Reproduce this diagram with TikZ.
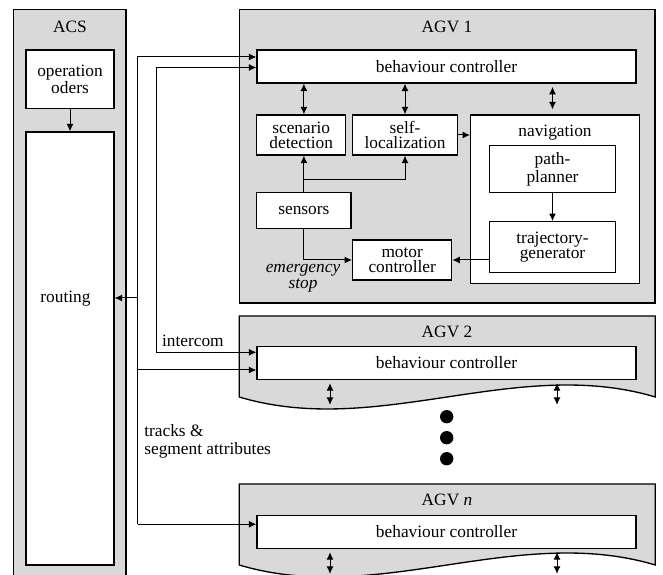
\documentclass[tikz,border=0pt]{standalone}
\usepackage{fontspec}
\setmainfont{Liberation Serif}
\usetikzlibrary{arrows.meta}
\begin{document}
\begin{tikzpicture}[x=0.6pt,y=-0.6pt,font=\fontsize{10.4}{9}\selectfont,>={Latex[length=4.5pt,width=4.2pt]},
  blk/.style 2 args={draw,fill=white,line width=0.8pt,align=center,inner sep=0pt,minimum width=#1*0.6pt,minimum height=#2*0.6pt},
  grp/.style={draw,fill=agvgray,line width=0.8pt},
  arr/.style={->,line width=0.6pt},
  darr/.style={<->,line width=0.6pt}]
\definecolor{agvgray}{HTML}{D9D9D9}
\useasboundingbox (0,0) rectangle (663,575);
\clip (0,0) rectangle (663,575);
\draw[grp] (13.5,9.5) rectangle (126,600);
\node (acstxt) at (70,27.2) {ACS};
\node[blk={88}{58.7}] (ops) at (70,79.3) {operation\\oders};
\node[blk={88}{433}] (routing) at (70,348.5) {};
\node (routtxt) at (65.5,299) {routing};
\draw[arr] (ops) -- (routing);
\draw[grp] (239.3,9.3) rectangle (655,303);
\node (agv1txt) at (447,27.2) {AGV 1};
\node[blk={379}{33}] (bc1) at (446.5,66.4) {behaviour controller};
\node[blk={89}{40}] (scen) at (301.2,135) {scenario\\detection};
\node[blk={105.4}{40}] (selfloc) at (405,135) {self-\\localization};
\node[blk={168.6}{168.3}] (nav) at (555,199.2) {};
\node (navtxt) at (555,132.5) {navigation};
\node[blk={126.4}{47}] (path) at (552.5,169.2) {path-\\planner};
\node[blk={126.4}{51}] (traj) at (552.5,247.2) {trajectory-\\generator};
\node[blk={99}{40}] (motor) at (402.2,260) {motor\\controller};
\node[blk={94.3}{35.6}] (sensors) at (303.9,210.5) {sensors};
\node[align=center,inner sep=0pt,font=\itshape\fontsize{10.4}{9.6}\selectfont] (estop) at (303,278) {emergency\\stop};
\draw[darr] (bc1.south -| sensors.north) -- (scen.north -| sensors.north);
\draw[darr] (bc1.south -| selfloc.north) -- (selfloc.north);
\draw[darr,shorten <=2pt,shorten >=3pt] (bc1.south -| path.north) -- (nav.north -| path.north);
\draw[arr] (selfloc.east) -- (selfloc.east -| nav.west);
\draw[arr] (sensors.north) -- (scen.south -| sensors.north);
\draw[arr] ([yshift=7.6pt]sensors.north) -| (selfloc.south);
\draw[arr] (sensors.south) |- (motor.west);
\draw[arr] (path) -- (traj);
\draw[arr] (motor.east -| traj.west) -- (motor.east);
\draw[grp] (239.3,316) -- (655.3,316) -- (655.3,397) .. controls (516,355.5) and (378,438.5) .. (239.3,397) -- cycle;
\node (agv2txt) at (447,331.8) {AGV 2};
\node[blk={379}{33}] (bc2) at (446.5,362.7) {behaviour controller};
\draw[darr,shorten <=2pt] (bc2.south -| 330,0) -- ++(0,25);
\draw[darr,shorten <=2pt] (bc2.south -| 557,0) -- ++(0,25);
\fill (446.7,416.7) circle (4pt);
\fill (446.7,437.7) circle (4pt);
\fill (446.7,458.7) circle (4pt);
\draw[grp] (239.3,484) -- (655.3,484) -- (655.3,565) .. controls (516,523.5) and (378,606.5) .. (239.3,565) -- cycle;
\node (agvntxt) at (447,499.5) {AGV \textit{n}};
\node[blk={379}{33}] (bcn) at (446.5,531.7) {behaviour controller};
\draw[darr,shorten <=2pt] (bcn.south -| 330,0) -- ++(0,25);
\draw[darr,shorten <=2pt] (bcn.south -| 557,0) -- ++(0,25);
\coordinate (trk) at (137.7,524.3);
\coordinate (icm) at (156,352.3);
\draw[arr] (trk) |- (bc1.west |- 0,57);
\draw[arr] (trk) -- (trk -| bcn.west);
\draw[arr] (trk |- 0,370) -- (bc2.west |- 0,370);
\draw[arr] (trk |- 0,298) -- (routing.east |- 0,298);
\draw[arr] (icm) |- (bc1.west |- 0,67.5);
\draw[arr] (icm) -- (icm -| bc2.west);
\node[anchor=base west,inner sep=0pt] (icmtxt) at (161.7,346.7) {intercom};
\node[anchor=north west,inner sep=0pt,align=left,font=\fontsize{10.4}{10.5}\selectfont] (trktxt) at (144,424.5) {tracks \&\\segment attributes};
\end{tikzpicture}
\end{document}
